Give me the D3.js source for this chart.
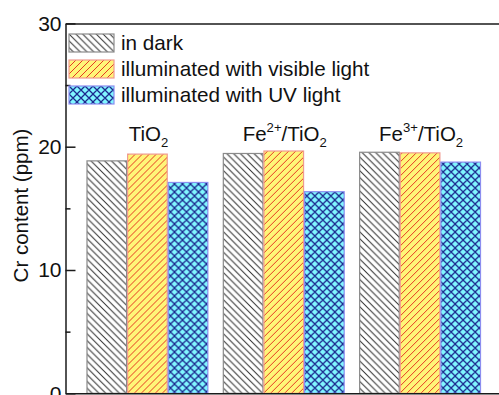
<!DOCTYPE html>
<html>
<head>
<meta charset="utf-8">
<script src="https://cdn.jsdelivr.net/npm/d3@7"></script>
<style>
  html, body { margin: 0; padding: 0; background: #fff; }
  svg { display: block; font-family: "Liberation Sans", Arial, sans-serif; }
</style>
</head>
<body>
<svg id="chart" width="499" height="395"></svg>
<script>
// Samples; ^{..} marks a superscript, _{..} a subscript
const categories = ["TiO_{2}", "Fe^{2+}/TiO_{2}", "Fe^{3+}/TiO_{2}"];
const seriesNames = ["in dark", "illuminated with visible light", "illuminated with UV light"];

// Cr content (ppm) for each sample
const inDark = [18.85, 19.45, 19.55];
const visibleLight = [19.4, 19.65, 19.5];
const uvLight = [17.1, 16.35, 18.75];

const yMajorTicks = [0, 10, 20, 30];
const yMinorTicks = [5, 15, 25];

const seriesValues = [inDark, visibleLight, uvLight];
const styles = [
  { fill: "url(#hatch-dark)", stroke: "#8a8a8a" },
  { fill: "url(#hatch-visible)", stroke: "#f09a90" },
  { fill: "url(#hatch-uv)", stroke: "#8c8ef0" }
];

const svg = d3.select("#chart");
const margin = { left: 65.5, top: 23.4, bottom: 393.3 };

const x = d3.scaleBand()
  .domain(categories)
  .range([margin.left, 502])
  .paddingInner(0.106)
  .paddingOuter(0.154);

const xs = d3.scaleBand()
  .domain(seriesNames)
  .range([0, x.bandwidth()])
  .padding(0);

const y = d3.scaleLinear()
  .domain([0, 30])
  .range([margin.bottom, margin.top]);

// ---- hatch patterns ----
const defs = svg.append("defs");

function diagPattern(id, bg, color, size, width, dir) {
  const p = defs.append("pattern")
    .attr("id", id)
    .attr("patternUnits", "userSpaceOnUse")
    .attr("width", size).attr("height", size);
  if (bg) p.append("rect").attr("width", size).attr("height", size).attr("fill", bg);
  const s = size;
  const back = `M0,0 L${s},${s} M${-s / 2},${s / 2} L${s / 2},${s * 1.5} M${s / 2},${-s / 2} L${s * 1.5},${s / 2}`;
  const fwd = `M0,${s} L${s},0 M${-s / 2},${s / 2} L${s / 2},${-s / 2} M${s / 2},${s * 1.5} L${s * 1.5},${s / 2}`;
  const d = dir === "back" ? back : dir === "fwd" ? fwd : back + " " + fwd;
  p.append("path").attr("d", d)
    .attr("stroke", color).attr("stroke-width", width).attr("fill", "none");
}
diagPattern("hatch-dark", "#ffffff", "#2b2b2b", 6.8, 1.0, "back");
diagPattern("hatch-visible", "#fff578", "#e43a22", 7.0, 1.0, "fwd");
diagPattern("hatch-uv", "#80f6ff", "#1c2a8e", 8, 1.3, "cross");

// ---- bars ----
const groups = svg.append("g").selectAll("g")
  .data(categories)
  .join("g")
  .attr("transform", d => `translate(${x(d)},0)`);

groups.selectAll("rect")
  .data((c, ci) => seriesNames.map((s, si) => ({ s, si, v: seriesValues[si][ci] })))
  .join("rect")
  .attr("x", d => xs(d.s) + 0.5)
  .attr("y", d => y(d.v))
  .attr("width", xs.bandwidth() - 1)
  .attr("height", d => y(0) - y(d.v))
  .attr("fill", d => styles[d.si].fill)
  .attr("stroke", d => styles[d.si].stroke)
  .attr("stroke-width", 1.2);

// ---- rich text helper for chemical labels ----
function richText(sel, str, size) {
  const parts = [];
  const re = /([\^_])\{([^}]*)\}|([^\^_]+)/g;
  let m;
  while ((m = re.exec(str)) !== null) {
    if (m[3]) parts.push({ t: m[3], k: "n" });
    else parts.push({ t: m[2], k: m[1] === "^" ? "sup" : "sub" });
  }
  let shift = 0;
  parts.forEach(p => {
    const target = p.k === "sup" ? -0.42 * size : p.k === "sub" ? 0.3 * size : 0;
    sel.append("tspan")
      .attr("dy", target - shift)
      .attr("font-size", p.k === "n" ? size : size * 0.64)
      .text(p.t);
    shift = target;
  });
}

// ---- category labels above each group ----
svg.append("g").selectAll("text")
  .data(categories)
  .join("text")
  .attr("x", d => x(d) + x.bandwidth() / 2 + 1)
  .attr("y", 140.5)
  .attr("text-anchor", "middle")
  .attr("fill", "#111")
  .each(function (d) { richText(d3.select(this), d, 20.5); });

// ---- axes ----
const axisColor = "#1a1a1a";
const yAxis = svg.append("g")
  .attr("transform", `translate(${margin.left},0)`)
  .call(d3.axisLeft(y).tickValues(yMajorTicks).tickSizeInner(-10).tickSizeOuter(0).tickPadding(4));
yAxis.selectAll("text").attr("font-size", 21).attr("fill", "#111").attr("font-family", "Liberation Sans, Arial, sans-serif");

const yMinor = svg.append("g")
  .attr("transform", `translate(${margin.left},0)`)
  .call(d3.axisLeft(y).tickValues(yMinorTicks).tickSizeInner(-5).tickSizeOuter(0).tickFormat(""));

const xBottom = svg.append("g")
  .attr("transform", `translate(0,${margin.bottom})`)
  .call(d3.axisBottom(x).tickValues([]).tickSizeOuter(0));
const xTop = svg.append("g")
  .attr("transform", `translate(0,${margin.top})`)
  .call(d3.axisTop(x).tickValues([]).tickSizeOuter(0));

[yAxis, yMinor, xBottom, xTop].forEach(g => {
  g.selectAll("path, line").attr("stroke", axisColor).attr("stroke-width", 1.5);
});
yMinor.select(".domain").remove();

svg.append("text")
  .attr("transform", `translate(28,205.5) rotate(-90)`)
  .attr("text-anchor", "middle")
  .attr("font-size", 20.5)
  .attr("fill", "#111")
  .text("Cr content (ppm)");

// ---- legend ----
const legend = svg.append("g").attr("transform", "translate(69,34)");
const rows = legend.selectAll("g")
  .data(seriesNames)
  .join("g")
  .attr("transform", (d, i) => `translate(0,${i * 26})`);
rows.append("rect")
  .attr("width", 45).attr("height", 18)
  .attr("fill", (d, i) => styles[i].fill)
  .attr("stroke", (d, i) => styles[i].stroke)
  .attr("stroke-width", 1.2);
rows.append("text")
  .attr("x", 52).attr("y", 15.5)
  .attr("font-size", 20.7)
  .attr("fill", "#111")
  .text(d => d);
</script>
</body>
</html>
